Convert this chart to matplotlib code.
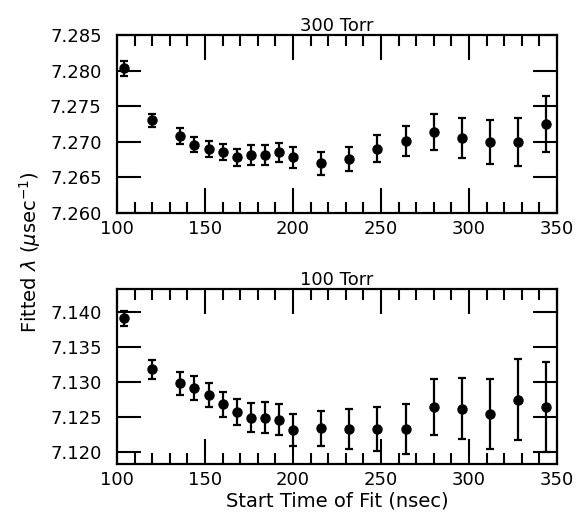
import numpy as np
import matplotlib
matplotlib.use('Agg')
import matplotlib.pyplot as plt
from matplotlib.ticker import MultipleLocator

plt.rcParams['font.family'] = ['DejaVu Sans']

# start time of fit (nsec)
start_time = [104, 120, 136, 144, 152, 160, 168, 176, 184, 192, 200,
              216, 232, 248, 264, 280, 296, 312, 328, 344]

# 300 Torr
lam_300 = [7.2803, 7.2730, 7.2708, 7.2696, 7.2690, 7.2686, 7.2678, 7.2682,
           7.2681, 7.2685, 7.2678, 7.2670, 7.2676, 7.2690, 7.2701, 7.2714,
           7.2705, 7.2700, 7.2700, 7.2725]
err_300 = [0.0010, 0.0009, 0.0011, 0.0011, 0.0011, 0.0011, 0.0012, 0.0014,
           0.0014, 0.0014, 0.0015, 0.0016, 0.0017, 0.0019, 0.0021, 0.0025,
           0.0028, 0.0031, 0.0034, 0.0039]

# 100 Torr
lam_100 = [7.1391, 7.1318, 7.1298, 7.1291, 7.1282, 7.1268, 7.1257, 7.1249,
           7.1249, 7.1246, 7.1232, 7.1234, 7.1233, 7.1233, 7.1233, 7.1264,
           7.1262, 7.1254, 7.1275, 7.1264]
err_100 = [0.0011, 0.0014, 0.0016, 0.0017, 0.0017, 0.0018, 0.0019, 0.0021,
           0.0022, 0.0022, 0.0023, 0.0025, 0.0028, 0.0032, 0.0036, 0.0040,
           0.0044, 0.0050, 0.0058, 0.0064]

W, H = 580, 516
fig = plt.figure(figsize=(W / 100, H / 100), dpi=100)


def box(left, top, right, bottom):
    return [left / W, 1 - bottom / H, (right - left) / W, (bottom - top) / H]


ax1 = fig.add_axes(box(117, 35, 557, 213))
ax2 = fig.add_axes(box(117, 289, 557, 464))


def style(ax, ylim, yticks, title):
    ax.set_xlim(100, 350)
    ax.set_ylim(*ylim)
    ax.set_yticks(yticks)
    ax.set_yticklabels([f'{v:.3f}' for v in yticks])
    ax.set_xticks([100, 150, 200, 250, 300, 350])
    ax.xaxis.set_minor_locator(MultipleLocator(10))
    ax.tick_params(which='major', direction='in', length=18, width=1.5,
                   top=True, right=True, labelsize=13)
    ax.tick_params(which='minor', direction='in', length=8, width=1.5,
                   top=True, bottom=True)
    ax.tick_params(axis='y', which='major', length=17, pad=11)
    ax.tick_params(axis='x', which='major', pad=5)
    for s in ax.spines.values():
        s.set_linewidth(1.6)
    ax.set_title(title, fontsize=13, pad=3)


ax1.errorbar(start_time, lam_300, yerr=err_300, fmt='o', color='black',
             markersize=6.5, elinewidth=1.6, capsize=3, capthick=1.6)
style(ax1, (7.260, 7.285), [7.260, 7.265, 7.270, 7.275, 7.280, 7.285], '300 Torr')

ax2.errorbar(start_time, lam_100, yerr=err_100, fmt='o', color='black',
             markersize=6.5, elinewidth=1.6, capsize=3, capthick=1.6)
style(ax2, (7.1183, 7.1433), [7.120, 7.125, 7.130, 7.135, 7.140], '100 Torr')

ax2.set_xlabel('Start Time of Fit (nsec)', fontsize=14, labelpad=2)
fig.text(30 / W, 1 - 252 / H, r'Fitted $\lambda$ ($\mu$sec$^{-1}$)',
         rotation=90, fontsize=14, ha='center', va='center')

fig.savefig('out.png', dpi=100)
